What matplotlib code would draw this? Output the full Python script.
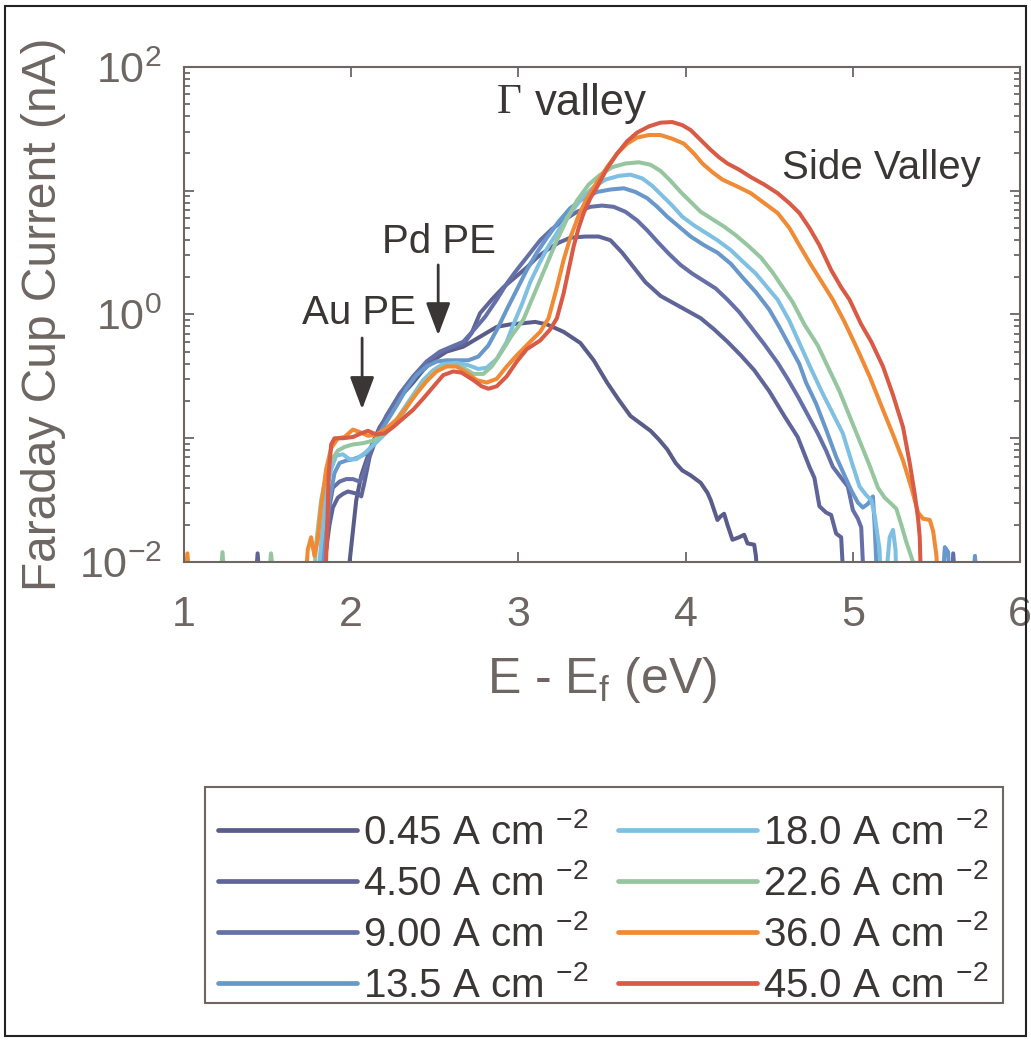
import numpy as np
import matplotlib.pyplot as plt
from matplotlib.ticker import FixedLocator, FuncFormatter, LogLocator, NullFormatter
from matplotlib.patches import Rectangle

plt.rcParams['font.family'] = ['Liberation Sans', 'DejaVu Sans']
plt.rcParams['mathtext.fontset'] = 'custom'
plt.rcParams['mathtext.rm'] = 'Liberation Sans'
plt.rcParams['mathtext.it'] = 'Liberation Sans:italic'
plt.rcParams['mathtext.bf'] = 'Liberation Sans:bold'
plt.rcParams['mathtext.sf'] = 'Liberation Sans'

GREY = '#6d6663'
DARK = '#3b3636'

# energy (eV) and log10 of Faraday cup current (nA)
e_045 = [1.95, 1.99, 2.03, 2.06, 2.09, 2.13, 2.17, 2.25, 2.31, 2.37, 2.43, 2.49, 2.57, 2.67, 2.77,
         2.87, 2.95, 3.03, 3.10, 3.17, 3.27, 3.37, 3.45, 3.53, 3.60, 3.67, 3.73, 3.79, 3.84, 3.89,
         3.94, 3.98, 4.03, 4.09, 4.13, 4.15, 4.19, 4.21, 4.23, 4.25, 4.28, 4.32, 4.35, 4.37, 4.41,
         4.42, 4.44]
l_045 = [-2.3, -2.0, -1.50, -1.30, -1.18, -1.03, -0.91, -0.75, -0.64, -0.55, -0.45, -0.37, -0.30, -0.26, -0.18,
         -0.10, -0.08, -0.07, -0.06, -0.08, -0.14, -0.23, -0.37, -0.55, -0.69, -0.82, -0.88, -0.94, -1.01, -1.09,
         -1.20, -1.26, -1.30, -1.36, -1.44, -1.50, -1.66, -1.63, -1.61, -1.70, -1.82, -1.80, -1.78, -1.85, -1.86,
         -1.95, -2.3]

e_450 = [1.42, 1.44, 1.46, 1.81, 1.84, 1.87, 1.89, 1.92, 1.95, 1.98, 2.01, 2.04, 2.06, 2.08, 2.11,
         2.15, 2.21, 2.29, 2.37, 2.45, 2.53, 2.60, 2.67, 2.72, 2.77, 2.84, 2.91, 2.98, 3.05, 3.11,
         3.17, 3.24, 3.31, 3.40, 3.48, 3.55, 3.62, 3.69, 3.76, 3.85, 3.93, 4.01, 4.09, 4.17, 4.25,
         4.33, 4.41, 4.50, 4.59, 4.67, 4.74, 4.77, 4.80, 4.84, 4.87, 4.90, 4.93, 4.95]
l_450 = [-2.3, -1.93, -2.3, -2.3, -2.0, -1.70, -1.56, -1.48, -1.45, -1.43, -1.44, -1.45, -1.47, -1.35, -1.15,
         -1.00, -0.82, -0.65, -0.52, -0.40, -0.31, -0.27, -0.24, -0.15, 0.01, 0.12, 0.22, 0.30, 0.38, 0.46,
         0.52, 0.58, 0.62, 0.63, 0.63, 0.60, 0.50, 0.38, 0.26, 0.15, 0.09, 0.03, -0.03, -0.12, -0.22,
         -0.33, -0.45, -0.62, -0.82, -0.99, -1.23, -1.32, -1.55, -1.60, -1.62, -1.77, -1.80, -2.3]

e_900 = [1.82, 1.85, 1.87, 1.89, 1.93, 1.97, 2.01, 2.05, 2.07, 2.11, 2.15, 2.21, 2.29, 2.37, 2.45,
         2.53, 2.60, 2.67, 2.73, 2.80, 2.87, 2.93, 2.99, 3.06, 3.13, 3.20, 3.27, 3.35, 3.43, 3.50,
         3.57, 3.64, 3.71, 3.77, 3.83, 3.90, 3.97, 4.04, 4.11, 4.18, 4.25, 4.32, 4.39, 4.47, 4.55,
         4.61, 4.67, 4.73, 4.79, 4.84, 4.88, 4.93, 4.97, 5.00, 5.03, 5.05, 5.07, 5.59, 5.60, 5.62]
l_900 = [-2.3, -1.9, -1.55, -1.40, -1.35, -1.33, -1.33, -1.35, -1.30, -1.13, -0.98, -0.82, -0.64, -0.50, -0.38,
         -0.30, -0.26, -0.22, -0.13, -0.02, 0.12, 0.25, 0.36, 0.48, 0.60, 0.69, 0.76, 0.83, 0.87, 0.88,
         0.87, 0.83, 0.76, 0.68, 0.59, 0.49, 0.40, 0.33, 0.27, 0.21, 0.12, 0.02, -0.10, -0.24, -0.39,
         -0.52, -0.66, -0.81, -0.96, -1.10, -1.23, -1.32, -1.39, -1.58, -1.65, -1.72, -2.3, -2.3, -1.93, -2.3]

e_135 = [1.80, 1.84, 1.87, 1.90, 1.93, 1.97, 2.01, 2.05, 2.09, 2.13, 2.17, 2.21, 2.27, 2.33, 2.39,
         2.45, 2.51, 2.57, 2.64, 2.70, 2.76, 2.82, 2.88, 2.93, 2.99, 3.05, 3.11, 3.17, 3.24, 3.31,
         3.39, 3.47, 3.55, 3.63, 3.70, 3.77, 3.83, 3.89, 3.96, 4.03, 4.11, 4.19, 4.27, 4.34, 4.42,
         4.50, 4.56, 4.62, 4.68, 4.72, 4.78, 4.84, 4.90, 4.95, 4.99, 5.03, 5.06, 5.09, 5.12, 5.13,
         5.15, 5.53, 5.55, 5.57, 5.58, 5.71, 5.73, 5.75]
l_135 = [-2.3, -1.85, -1.50, -1.28, -1.20, -1.18, -1.17, -1.15, -1.12, -1.05, -0.96, -0.87, -0.74, -0.60, -0.49,
         -0.42, -0.38, -0.37, -0.37, -0.37, -0.34, -0.25, -0.10, 0.04, 0.20, 0.36, 0.50, 0.62, 0.75, 0.86,
         0.94, 0.99, 1.01, 1.02, 0.99, 0.94, 0.87, 0.79, 0.71, 0.63, 0.56, 0.50, 0.41, 0.30, 0.18,
         0.04, -0.10, -0.25, -0.40, -0.55, -0.72, -0.93, -1.15, -1.30, -1.42, -1.52, -1.56, -1.53, -1.47, -1.70,
         -2.3, -2.3, -1.88, -1.92, -2.3, -2.3, -1.95, -2.3]

e_180 = [1.79, 1.82, 1.85, 1.88, 1.91, 1.95, 1.99, 2.03, 2.08, 2.13, 2.19, 2.25, 2.31, 2.37, 2.43,
         2.49, 2.55, 2.63, 2.70, 2.76, 2.81, 2.87, 2.93, 2.97, 3.02, 3.07, 3.12, 3.17, 3.24, 3.31,
         3.38, 3.45, 3.52, 3.60, 3.67, 3.74, 3.80, 3.86, 3.92, 3.98, 4.05, 4.12, 4.19, 4.27, 4.34,
         4.42, 4.50, 4.55, 4.62, 4.68, 4.75, 4.82, 4.88, 4.94, 4.99, 5.04, 5.08, 5.11, 5.13, 5.16,
         5.17, 5.20, 5.22, 5.24, 5.255, 5.265]
l_180 = [-2.3, -1.85, -1.45, -1.25, -1.14, -1.13, -1.17, -1.17, -1.12, -1.06, -0.98, -0.90, -0.77, -0.65, -0.53,
         -0.45, -0.40, -0.39, -0.41, -0.44, -0.43, -0.36, -0.22, -0.08, 0.08, 0.26, 0.40, 0.53, 0.68, 0.82,
         0.94, 1.03, 1.09, 1.12, 1.13, 1.10, 1.04, 0.96, 0.88, 0.79, 0.72, 0.66, 0.60, 0.52, 0.43,
         0.33, 0.20, 0.12, -0.05, -0.23, -0.44, -0.64, -0.80, -0.96, -1.18, -1.39, -1.46, -1.50, -1.62, -1.90,
         -2.3, -2.1, -1.80, -1.74, -1.90, -2.3]

e_226 = [1.21, 1.23, 1.25, 1.50, 1.52, 1.55, 1.77, 1.79, 1.82, 1.85, 1.88, 1.92, 1.96, 2.01, 2.07,
         2.13, 2.19, 2.25, 2.31, 2.37, 2.43, 2.49, 2.55, 2.61, 2.67, 2.73, 2.79, 2.84, 2.90, 2.96,
         3.03, 3.08, 3.13, 3.18, 3.23, 3.29, 3.35, 3.42, 3.49, 3.56, 3.64, 3.72, 3.79, 3.85, 3.91,
         3.97, 4.03, 4.09, 4.16, 4.23, 4.30, 4.37, 4.45, 4.52, 4.58, 4.64, 4.71, 4.79, 4.86, 4.92,
         4.98, 5.04, 5.10, 5.15, 5.19, 5.23, 5.26, 5.29, 5.32, 5.36, 5.38]
l_226 = [-2.3, -1.92, -2.3, -2.3, -1.93, -2.3, -2.3, -1.85, -1.50, -1.30, -1.18, -1.10, -1.07, -1.05, -1.04,
         -1.02, -0.97, -0.90, -0.80, -0.67, -0.56, -0.47, -0.42, -0.41, -0.43, -0.48, -0.48, -0.42, -0.30, -0.17,
         -0.04, 0.12, 0.28, 0.44, 0.60, 0.77, 0.92, 1.05, 1.13, 1.19, 1.22, 1.23, 1.21, 1.16, 1.08,
         0.99, 0.91, 0.83, 0.77, 0.71, 0.64, 0.56, 0.46, 0.34, 0.22, 0.10, -0.08, -0.25, -0.45, -0.62,
         -0.82, -1.02, -1.22, -1.40, -1.48, -1.53, -1.57, -1.70, -1.84, -2.0, -2.3]

e_360 = [1.00, 1.02, 1.04, 1.72, 1.74, 1.76, 1.78, 1.80, 1.82, 1.85, 1.88, 1.92, 1.96, 2.01, 2.05,
         2.10, 2.15, 2.21, 2.27, 2.33, 2.39, 2.45, 2.51, 2.57, 2.63, 2.69, 2.75, 2.81, 2.87, 2.93,
         2.99, 3.07, 3.13, 3.18, 3.23, 3.27, 3.31, 3.36, 3.41, 3.47, 3.53, 3.59, 3.65, 3.71, 3.78,
         3.85, 3.92, 3.99, 4.05, 4.10, 4.16, 4.22, 4.30, 4.39, 4.47, 4.55, 4.62, 4.68, 4.75, 4.82,
         4.88, 4.95, 5.02, 5.10, 5.18, 5.24, 5.30, 5.35, 5.39, 5.42, 5.46, 5.48, 5.50, 5.51]
l_360 = [-2.3, -1.93, -2.3, -2.3, -1.90, -1.80, -1.95, -1.82, -1.55, -1.25, -1.08, -1.00, -0.99, -0.93, -0.95,
         -0.98, -0.97, -0.92, -0.85, -0.75, -0.64, -0.54, -0.46, -0.42, -0.42, -0.47, -0.53, -0.55, -0.52, -0.42,
         -0.33, -0.22, -0.14, -0.03, 0.22, 0.44, 0.62, 0.80, 0.94, 1.07, 1.19, 1.30, 1.38, 1.43, 1.45,
         1.45, 1.42, 1.38, 1.30, 1.22, 1.15, 1.09, 1.04, 0.98, 0.90, 0.82, 0.70, 0.56, 0.40, 0.25,
         0.12, -0.06, -0.26, -0.50, -0.77, -0.97, -1.18, -1.40, -1.60, -1.65, -1.66, -1.75, -1.95, -2.3]

e_450b = [1.84, 1.855, 1.865, 1.88, 1.90, 1.95, 2.01, 2.06, 2.10, 2.15, 2.20, 2.25, 2.31, 2.37, 2.43,
          2.49, 2.55, 2.61, 2.66, 2.73, 2.78, 2.82, 2.87, 2.93, 2.99, 3.05, 3.13, 3.19, 3.23, 3.27,
          3.30, 3.33, 3.36, 3.39, 3.43, 3.47, 3.53, 3.59, 3.65, 3.71, 3.78, 3.85, 3.92, 3.98, 4.03,
          4.09, 4.15, 4.20, 4.25, 4.32, 4.39, 4.47, 4.55, 4.62, 4.68, 4.74, 4.80, 4.87, 4.93, 4.98,
          5.05, 5.11, 5.18, 5.24, 5.30, 5.34, 5.37, 5.39, 5.40, 5.41]
l_450b = [-2.3, -1.8, -1.3, -1.05, -1.00, -1.00, -0.99, -0.96, -0.94, -0.97, -0.96, -0.91, -0.84, -0.77, -0.68,
          -0.585, -0.49, -0.46, -0.47, -0.53, -0.58, -0.60, -0.58, -0.50, -0.38, -0.28, -0.21, -0.12, -0.03, 0.17,
          0.36, 0.55, 0.70, 0.82, 0.94, 1.03, 1.18, 1.30, 1.40, 1.47, 1.52, 1.55, 1.555, 1.53, 1.49,
          1.41, 1.33, 1.27, 1.22, 1.17, 1.11, 1.05, 0.98, 0.90, 0.82, 0.70, 0.56, 0.36, 0.22, 0.12,
          -0.08, -0.22, -0.42, -0.65, -0.91, -1.20, -1.45, -1.65, -1.80, -2.3]

labels = ['0.45 A cm $^{-2}$', '4.50 A cm $^{-2}$', '9.00 A cm $^{-2}$', '13.5 A cm $^{-2}$',
          '18.0 A cm $^{-2}$', '22.6 A cm $^{-2}$', '36.0 A cm $^{-2}$', '45.0 A cm $^{-2}$']
colors = ['#5a5d8a', '#5f6599', '#6570a8', '#6898cb', '#7fc0e2', '#96c6a0', '#f08a34', '#d95a45']
curves = [(e_045, l_045), (e_450, l_450), (e_900, l_900), (e_135, l_135),
          (e_180, l_180), (e_226, l_226), (e_360, l_360), (e_450b, l_450b)]

fig = plt.figure(figsize=(10.31, 10.40), dpi=100)
ax = fig.add_axes([0.1785, 0.4596, 0.8109, 0.476])

handles = []
for (e, lg), lab, c in zip(curves, labels, colors):
    h, = ax.plot(e, 10.0 ** np.array(lg), color=c, lw=2.9, label=lab,
                 solid_joinstyle='round', solid_capstyle='round')
    handles.append(h)

ax.set_yscale('log')
ax.set_xlim(1, 6)
ax.set_ylim(1e-2, 1e2)

ax.xaxis.set_major_locator(FixedLocator([1, 2, 3, 4, 5, 6]))
ax.xaxis.set_major_formatter(FuncFormatter(lambda v, p: '%d' % round(v)))
ax.yaxis.set_major_locator(FixedLocator([1e-2, 1e-1, 1e0, 1e1, 1e2]))
ax.yaxis.set_major_formatter(FuncFormatter(
    lambda v, p: r'$10^{%d}$' % round(np.log10(v)) if round(np.log10(v)) % 2 == 0 else ''))
ax.yaxis.set_minor_locator(LogLocator(base=10, subs=np.arange(2, 10), numticks=20))
ax.yaxis.set_minor_formatter(NullFormatter())

for s in ax.spines.values():
    s.set_color(GREY)
    s.set_linewidth(1.5)
ax.tick_params(which='both', direction='in', top=True, right=True, color=GREY, width=1.3)
ax.tick_params(which='major', length=7)
ax.tick_params(which='minor', length=4)
ax.tick_params(axis='x', which='major', labelsize=31, labelcolor=GREY, pad=24)
ax.tick_params(axis='y', which='major', labelsize=31, labelcolor=GREY, pad=16)

ax.set_xlabel(r'E - E$_{\rm f}$ (eV)', fontsize=36, color=GREY, labelpad=14)
ax.set_ylabel('Faraday Cup Current (nA)', fontsize=34.5, color=GREY, labelpad=9)

# annotations
ax.text(3.02, 51, 'Γ', family='Liberation Serif', fontsize=31, color=DARK, ha='right', va='center')
ax.text(3.10, 51, 'valley', fontsize=31.5, color=DARK, ha='left', va='center')
ax.text(5.17, 15.3, 'Side Valley', fontsize=29, color=DARK, ha='center', va='center')
ax.text(2.525, 3.86, 'Pd PE', fontsize=29, color=DARK, ha='center', va='center')
ax.text(2.047, 1.03, 'Au PE', fontsize=29, color=DARK, ha='center', va='center')
arrow = dict(arrowstyle='-|>,head_length=0.8,head_width=0.3', color=DARK, lw=2, mutation_scale=25)
ax.annotate('', xy=(2.065, 0.163), xytext=(2.065, 0.68), arrowprops=arrow)
ax.annotate('', xy=(2.52, 0.645), xytext=(2.52, 2.65), arrowprops=arrow)

# legend without its own frame, box drawn separately
leg = ax.legend(handles, labels, loc='center', ncol=2, frameon=False,
                bbox_to_anchor=(0.585, 0.1260), bbox_transform=fig.transFigure,
                fontsize=29, labelcolor=DARK, handlelength=3.45, handletextpad=0.15,
                columnspacing=0.75, labelspacing=0.3, borderpad=0.0)
for ln in leg.get_lines():
    ln.set_linewidth(3.4)
fig.patches.append(Rectangle((0.1988, 0.0356), 0.774, 0.2077, transform=fig.transFigure,
                             fill=False, edgecolor=GREY, lw=1.5))

fig.patches.append(Rectangle((0.005, 0.004), 0.99, 0.99, transform=fig.transFigure,
                             fill=False, edgecolor='#222222', lw=1.5))

fig.savefig('out.png', dpi=100)
